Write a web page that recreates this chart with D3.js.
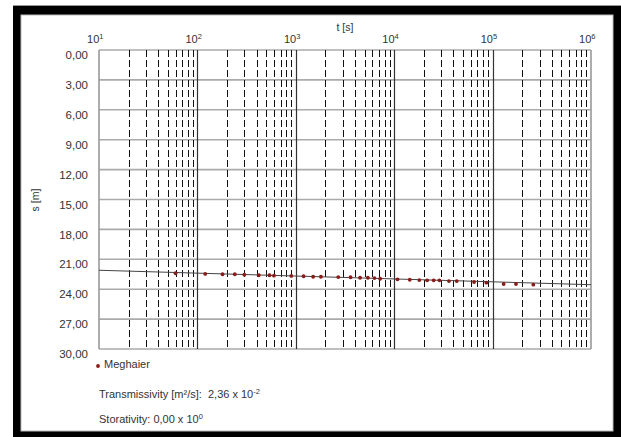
<!DOCTYPE html>
<html>
<head>
<meta charset="utf-8">
<script src="https://cdn.jsdelivr.net/npm/d3@7"></script>
<style>
  html, body { margin: 0; padding: 0; background: #fff; }
  svg { display: block; font-family: "Liberation Sans", Arial, sans-serif; }
</style>
</head>
<body>
<svg id="chart" width="621" height="437"></svg>
<script>
// measured drawdown (Meghaier well)
const timeS = [60, 120, 180, 240, 300, 420, 540, 600, 900, 1200, 1500, 1800, 2700, 3600,
  4500, 5400, 6300, 7200, 10800, 14400, 18000, 21600, 25200, 28800, 36000, 43200,
  64800, 86400, 129600, 172800, 259200];
const drawdownM = [22.40, 22.47, 22.50, 22.50, 22.55, 22.60, 22.60, 22.64, 22.67, 22.70,
  22.75, 22.75, 22.78, 22.80, 22.85, 22.85, 22.88, 22.95, 23.01, 23.05, 23.08, 23.11,
  23.11, 23.11, 23.18, 23.18, 23.28, 23.35, 23.48, 23.48, 23.55];

// fitted straight line (Cooper-Jacob)
const fitT = [10, 1000000];
const fitS = [22.1, 23.55];

const xExponents = [1, 2, 3, 4, 5, 6];
const yTicks = [0, 3, 6, 9, 12, 15, 18, 21, 24, 27, 30];

const seriesName = "Meghaier";
const transmissivity = ["2,36", "-2"];
const storativity = ["0,00", "0"];

const svg = d3.select("#chart");

// black frame round the page
svg.append("rect").attr("x", 13).attr("y", 6).attr("width", 608).attr("height", 431)
  .attr("fill", "#000");
svg.append("line").attr("x1", 13).attr("x2", 621).attr("y1", 5.5).attr("y2", 5.5)
  .attr("stroke", "#999");
svg.append("rect").attr("x", 21).attr("y", 15).attr("width", 592).attr("height", 416)
  .attr("fill", "#fff").attr("stroke", "#bbb").attr("stroke-width", 1);

const plotLeft = 99, plotRight = 591, plotTop = 50, plotBottom = 349;

const x = d3.scaleLog().domain([10, 1000000]).range([plotLeft, plotRight]);
const y = d3.scaleLinear().domain([0, 30]).range([plotTop, plotBottom]);

const locale = d3.formatLocale({decimal: ",", thousands: ".", grouping: [3], currency: ["", ""]});
const fmt = locale.format(".2f");

const grid = svg.append("g");

// horizontal grid
grid.selectAll(".hgrid")
  .data(yTicks)
  .enter()
  .append("line")
  .attr("x1", plotLeft).attr("x2", plotRight)
  .attr("y1", d => y(d)).attr("y2", d => y(d))
  .attr("stroke", "#aaa")
  .attr("stroke-width", 1.6);

// minor (dashed) vertical lines
let minor = [];
for (let e = 1; e < 6; e++) {
  for (let m = 2; m <= 9; m++) minor.push(m * Math.pow(10, e));
}
grid.selectAll(".minor")
  .data(minor)
  .enter()
  .append("line")
  .attr("x1", d => Math.round(x(d)) + 0.5).attr("x2", d => Math.round(x(d)) + 0.5)
  .attr("y1", plotTop).attr("y2", plotBottom)
  .attr("stroke", "#111")
  .attr("stroke-width", 1)
  .attr("stroke-dasharray", "7,3");

// decade lines
grid.selectAll(".major")
  .data([100, 1000, 10000, 100000])
  .enter()
  .append("line")
  .attr("x1", d => Math.round(x(d)) + 0.5).attr("x2", d => Math.round(x(d)) + 0.5)
  .attr("y1", plotTop).attr("y2", plotBottom)
  .attr("stroke", "#333")
  .attr("stroke-width", 1.2);

// plot edges
grid.append("line").attr("x1", plotLeft).attr("x2", plotLeft).attr("y1", plotTop).attr("y2", plotBottom)
  .attr("stroke", "#999").attr("stroke-width", 1.6);
grid.append("line").attr("x1", plotRight).attr("x2", plotRight).attr("y1", plotTop).attr("y2", plotBottom)
  .attr("stroke", "#999").attr("stroke-width", 1.6);

// y axis labels
const yAxis = svg.append("g")
  .attr("transform", "translate(" + plotLeft + ",0)")
  .call(d3.axisLeft(y).tickValues(yTicks).tickSize(0).tickPadding(11).tickFormat(fmt));
yAxis.select(".domain").remove();
yAxis.selectAll("text")
  .attr("dy", "0.32em")
  .attr("transform", "translate(0,5)")
  .attr("fill", "#333")
  .style("font-size", "11.5px")
  .style("font-family", "'Liberation Sans', Arial, sans-serif");

// x axis labels (powers of ten, on top)
const xAxis = svg.append("g")
  .attr("transform", "translate(0," + plotTop + ")")
  .call(d3.axisTop(x).tickValues(xExponents.map(e => Math.pow(10, e))).tickSize(0).tickPadding(7).tickFormat(""));
xAxis.select(".domain").remove();
xAxis.selectAll(".tick text").each(function (d) {
  const t = d3.select(this)
    .attr("text-anchor", "end")
    .attr("x", 4)
    .attr("fill", "#333")
    .style("font-size", "11px")
    .style("font-family", "'Liberation Sans', Arial, sans-serif");
  t.append("tspan").text("10");
  t.append("tspan").attr("dy", -4).style("font-size", "7.5px").text(Math.round(Math.log10(d)));
});

// axis titles
svg.append("text")
  .attr("x", (plotLeft + plotRight) / 2).attr("y", 31)
  .attr("text-anchor", "middle")
  .attr("fill", "#333")
  .style("font-size", "10.5px")
  .text("t [s]");
svg.append("text")
  .attr("transform", "translate(39,200) rotate(-90)")
  .attr("text-anchor", "middle")
  .attr("fill", "#333")
  .style("font-size", "10.5px")
  .text("s [m]");

// fitted line
const line = d3.line().x(d => x(d[0])).y(d => y(d[1]));
svg.append("path")
  .datum(fitT.map((t, i) => [t, fitS[i]]))
  .attr("fill", "none")
  .attr("stroke", "#444")
  .attr("stroke-width", 1)
  .attr("d", line);

// measured points
svg.selectAll(".pt")
  .data(timeS.map((t, i) => [t, drawdownM[i]]))
  .enter()
  .append("circle")
  .attr("cx", d => x(d[0]))
  .attr("cy", d => y(d[1]))
  .attr("r", 1.9)
  .attr("fill", "#8b1a1a");

// legend
svg.append("circle").attr("cx", 98).attr("cy", 366).attr("r", 1.9).attr("fill", "#8b1a1a");
svg.append("text").attr("x", 104).attr("y", 368)
  .attr("fill", "#333").style("font-size", "11px").text(seriesName);

// parameters
const tr = svg.append("text").attr("x", 99).attr("y", 398)
  .attr("fill", "#333").style("font-size", "11px");
tr.append("tspan").text("Transmissivity [m\u00b2/s]:\u00a0 " + transmissivity[0] + " x 10");
tr.append("tspan").attr("dy", -4).style("font-size", "7.5px").text(transmissivity[1]);

const st = svg.append("text").attr("x", 99).attr("y", 423)
  .attr("fill", "#333").style("font-size", "11px");
st.append("tspan").text("Storativity: " + storativity[0] + " x 10");
st.append("tspan").attr("dy", -4).style("font-size", "7.5px").text(storativity[1]);
</script>
</body>
</html>
